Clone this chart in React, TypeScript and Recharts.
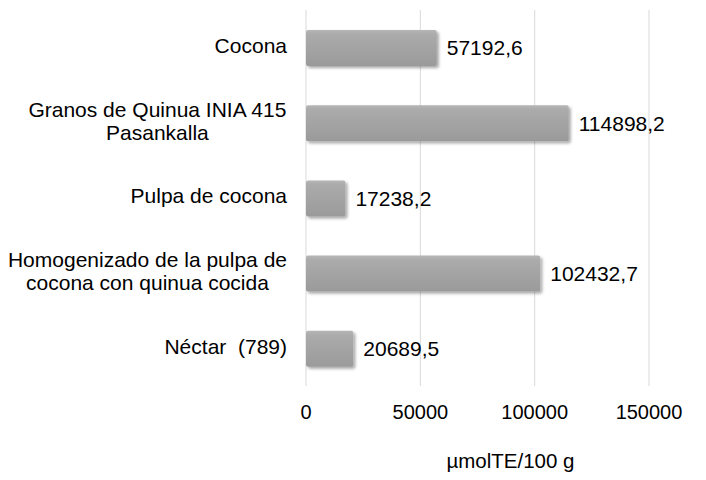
import { Bar, BarChart, CartesianGrid, LabelList, XAxis, YAxis } from "recharts";

const categories = [
  "Cocona",
  "Granos de Quinua INIA 415\nPasankalla",
  "Pulpa de cocona",
  "Homogenizado de la pulpa de\ncocona con quinua cocida",
  "Néctar  (789)",
];
const values = [57192.6, 114898.2, 17238.2, 102432.7, 20689.5];
const xTicks = [0, 50000, 100000, 150000];
const unitLabel = "µmolTE/100 g";

const data = categories.map((name, i) => ({ name, value: values[i] }));

const FONT = '"Liberation Sans", Arial, sans-serif';
const LABEL_SIZE = 21;
const TICK_SIZE = 20;

let ctx: CanvasRenderingContext2D | null = null;
function textWidth(s: string) {
  if (!ctx) ctx = document.createElement("canvas").getContext("2d");
  if (!ctx) return s.length * LABEL_SIZE * 0.5;
  ctx.font = `${LABEL_SIZE}px "Liberation Sans"`;
  return ctx.measureText(s).width;
}

function CategoryTick({ x, y, payload }: any) {
  const lines = String(payload.value).split("\n");
  const maxW = Math.max(...lines.map(textWidth));
  const cx = x - maxW / 2;
  const lh = 23;
  const startY = y - 2 - ((lines.length - 1) * lh) / 2;
  return (
    <text
      textAnchor="middle"
      fontSize={LABEL_SIZE}
      fontFamily={FONT}
      fill="#000"
      style={{ whiteSpace: "pre" }}
    >
      {lines.map((l, i) => (
        <tspan key={i} x={cx} y={startY + i * lh} dy="0.35em">
          {l}
        </tspan>
      ))}
    </text>
  );
}

function ShadowBar({ x, y, width, height }: any) {
  if (!width || width <= 0) return null;
  return (
    <rect
      x={x}
      y={y}
      width={width}
      height={height}
      rx={2}
      fill="url(#barGrad)"
      filter="url(#barShadow)"
    />
  );
}

const fmt = (v: any) => Number(v).toFixed(1).replace(".", ",");

export default function App() {
  return (
    <div style={{ position: "absolute", left: 0, top: 0, background: "#fff" }}>
      <BarChart
        width={706}
        height={480}
        data={data}
        layout="vertical"
        margin={{ top: 10, right: 57, bottom: 0, left: 0 }}
        barSize={36}
      >
        <defs>
          <linearGradient id="barGrad" x1="0" y1="0" x2="0" y2="1">
            <stop offset="0" stopColor="#b6b6b6" />
            <stop offset="0.12" stopColor="#ababab" />
            <stop offset="1" stopColor="#9a9a9a" />
          </linearGradient>
          <filter id="barShadow" x="-10%" y="-20%" width="130%" height="160%">
            <feDropShadow dx="2" dy="2" stdDeviation="1.5" floodColor="#000" floodOpacity="0.35" />
          </filter>
        </defs>
        <CartesianGrid horizontal={false} stroke="#d9d9d9" />
        <XAxis
          type="number"
          domain={[0, 150000]}
          ticks={xTicks}
          axisLine={false}
          tickLine={false}
          tickSize={0}
          tickMargin={19}
          height={94}
          tick={{ fontSize: TICK_SIZE, fontFamily: FONT, fill: "#000" }}
          label={{
            value: unitLabel,
            position: "insideBottom",
            offset: 12,
            dx: 33,
            fontSize: 20.5,
            fontFamily: FONT,
            fill: "#000",
          }}
        />
        <YAxis
          type="category"
          dataKey="name"
          width={306}
          axisLine={false}
          tickLine={false}
          tickSize={0}
          tickMargin={19}
          interval={0}
          tick={<CategoryTick />}
        />
        <Bar dataKey="value" shape={<ShadowBar />} isAnimationActive={false}>
          <LabelList
            dataKey="value"
            position="right"
            offset={10}
            formatter={fmt}
            fontSize={LABEL_SIZE}
            fontFamily={FONT}
            fill="#000"
          />
        </Bar>
      </BarChart>
    </div>
  );
}
